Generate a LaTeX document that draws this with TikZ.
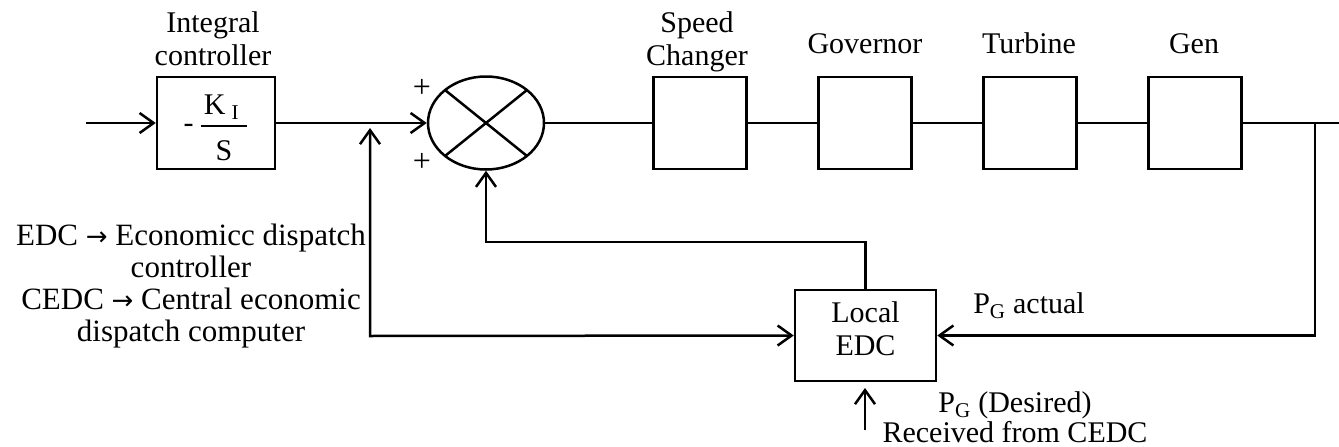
\documentclass[tikz,border=0pt]{standalone}
\usepackage{fontspec}
\setmainfont{Liberation Serif}
\newfontfamily\arrowfont{DejaVu Sans}
\usetikzlibrary{arrows.meta,shapes.geometric}
\newcommand{\defarrow}{{\arrowfont\fontsize{26}{26}\selectfont →}}

\begin{document}
\begin{tikzpicture}[x=1pt,y=-1pt,
  line width=2.5pt,
  font=\fontsize{30}{33}\selectfont,
  block/.style={draw, rectangle, inner sep=0pt, minimum width=#1, minimum height=92pt},
  block/.default=93pt,
  title/.style={anchor=base, align=center, inner sep=0pt},
  barb/.tip={Straight Barb[length=14pt,width=20pt]},
  arr/.style={-barb},
  sign/.style={font=\fontsize{32}{32}\selectfont, inner sep=0pt},
]
% canvas
\fill[white] (0,0) rectangle (1339,447);
\useasboundingbox (0,0) rectangle (1339,447);

% forward path blocks
\node[block=118pt, text height=40pt, text depth=21pt] (int) at (216,123)
  {-\hspace{6pt}$\displaystyle{\mbox{\hspace{3pt}K\hspace{6pt}\textsubscript{I}\hspace{8pt}}\above 2pt\mbox{\rule{0pt}{27pt}S}}$};
\node[ellipse, draw, inner sep=0pt, minimum width=116pt, minimum height=93pt] (sum) at (486,123) {};
\node[block] (sc)  at (700,123) {};
\node[block] (gov) at (865,123) {};
\node[block] (tur) at (1030,123) {};
\node[block] (gen) at (1195,123) {};

% local economic dispatch controller
\node[block=141pt, minimum height=91pt, align=center, text depth=14pt] (edc) at (865.5,335.5) {Local\\EDC};

% block titles (base anchor sits on the last line)
\node[title] (tint) at (213,65) {Integral\\controller};
\node[title] (tsc)  at (697,65) {Speed\\Changer};
\node[title] (tgov) at (865,53) {Governor};
\node[title] (ttur) at (1029,53) {Turbine};
\node[title] (tgen) at (1194,53) {Gen};

% summing junction cross and signs
\draw ([shift={(-41,-33)}]sum.center) -- ([shift={(41,33)}]sum.center);
\draw ([shift={(-41,33)}]sum.center) -- ([shift={(41,-33)}]sum.center);
\node[sign] (ptop) at (422,88) {+};
\node[sign] (pbot) at (422,162) {+};

% helper points
\coordinate (in)    at (86,123);
\coordinate (out)   at (1339,123);
\coordinate (jn)    at (1315,123);
\coordinate (fbtip) at (370,128);
\coordinate (lc)    at (370,336);
\coordinate (fb)    at (486,242);
\coordinate (pd)    at (865,430);
\coordinate (pdtip) at (865,388);

% main signal path
\draw[arr] (in) -- (int.west);
\draw[arr] (int.east) -- (sum.west);
\draw (sum.east) -- (sc.west);
\draw (sc.east) -- (gov.west);
\draw (gov.east) -- (tur.west);
\draw (tur.east) -- (gen.west);
\draw (gen.east) -- (out);

% feedback and dispatch signals
\draw[barb-barb] (fbtip) -- (lc) -- (edc.west);
\draw[arr] (jn) |- (edc.east);
\draw[arr] (edc.north) |- (fb) -- (sum.south);
\draw[arr] (pd) -- (pdtip);

% annotations
\node[anchor=base, align=center, inner sep=0pt, font=\fontsize{31}{32}\selectfont] (legend) at (191,341)
  {EDC \defarrow{} Economicc dispatch\\controller\\CEDC \defarrow{} Central economic\\dispatch computer};
\node[anchor=base west, inner sep=0pt] (pact) at (972,313) {P\textsubscript{G} actual};
\node[anchor=base, align=center, inner sep=0pt, font=\fontsize{30}{30}\selectfont] (pdes) at (1015,442)
  {P\textsubscript{G} (Desired)\\Received from CEDC};
\end{tikzpicture}
\end{document}
